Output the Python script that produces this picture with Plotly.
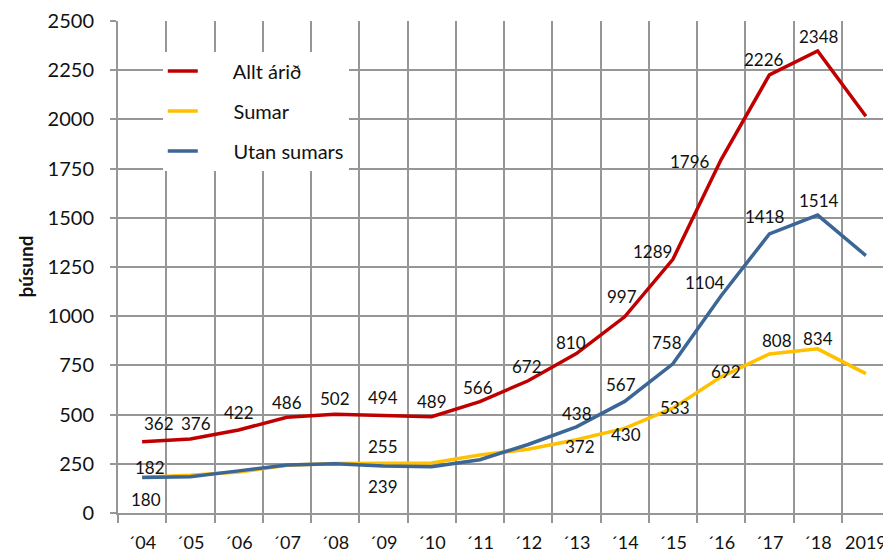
import plotly.graph_objects as go

years = ["´04", "´05", "´06", "´07", "´08", "´09", "´10", "´11", "´12",
         "´13", "´14", "´15", "´16", "´17", "´18", "2019"]

allt_arid = [362, 376, 422, 486, 502, 494, 489, 566, 672, 810, 997, 1289, 1796, 2226, 2348, 2016]
sumar = [182, 192, 208, 242, 252, 255, 254, 295, 324, 372, 430, 533, 692, 808, 834, 708]
utan_sumars = [180, 184, 214, 244, 250, 239, 235, 271, 348, 438, 567, 758, 1104, 1418, 1514, 1308]

# which points carry a data label
allt_labeled = [True] * 16
sumar_labeled = [i in (0, 5, 9, 10, 11, 12, 13, 14, 15) for i in range(16)]
utan_labeled = [i in (0, 5, 9, 10, 11, 12, 13, 14, 15) for i in range(16)]

# label offsets in screen pixels (dx, dy-up)
allt_off = [(17, 18), (6, 16), (0, 17), (0, 15), (0, 16), (0, 18), (0, 15), (-2, 14),
            (-1, 14), (-5, 11), (-3, 20), (-20, 8), (-31, -2), (-5, 15), (1, 14), (-1, -17)]
sumar_off = {0: (8, 10), 5: (0, 16), 9: (4, -7), 10: (1, -6), 11: (2, 1),
             12: (5, 5), 13: (8, 13), 14: (0, 10), 15: (2, 8)}
utan_off = {0: (4, -22), 5: (0, -21), 9: (1, 13), 10: (-4, 17), 11: (-6, 21),
            12: (-16, 13), 13: (-4, 17), 14: (1, 15), 15: (-1, 19)}

RED = "#C00000"
YELLOW = "#FFC000"
BLUE = "#3C6696"
GRID = "#969696"
FONT = "Lato, 'Open Sans', sans-serif"
PAD = "\u00a0" * 6

fig = go.Figure()
series = [("Allt árið", allt_arid, RED), ("Sumar", sumar, YELLOW), ("Utan sumars", utan_sumars, BLUE)]
for name, vals, col in series:
    fig.add_trace(go.Scatter(x=years, y=vals, mode="lines", name=PAD + name,
                             line=dict(color=col, width=3.5), legendgroup=name))

annotations = []
def add_labels(vals, labeled, offs):
    for i, v in enumerate(vals):
        if not labeled[i]:
            continue
        dx, dy = offs[i]
        annotations.append(dict(x=years[i], y=v, xref="x", yref="y", text=str(v),
                                showarrow=False, xshift=dx, yshift=dy,
                                font=dict(family=FONT, size=17, color="#111111")))

add_labels(allt_arid, allt_labeled, allt_off)
add_labels(sumar, sumar_labeled, sumar_off)
add_labels(utan_sumars, utan_labeled, utan_off)

annotations.append(dict(x=-0.121, y=0.5, xref="paper", yref="paper", text="<b>þúsund</b>",
                        textangle=-90, showarrow=False, xanchor="center", yanchor="middle",
                        font=dict(family=FONT, size=19, color="#111111")))

# the page body adds an 8px offset, so the figure is sized to fit the window
fig.update_layout(
    width=883, height=547,
    margin=dict(l=110, r=1, t=13, b=42, autoexpand=False),
    paper_bgcolor="white", plot_bgcolor="white",
    font=dict(family=FONT, size=20, color="#111111"),
    annotations=annotations,
    showlegend=True,
    legend=dict(x=0.058, y=0.938, xanchor="left", yanchor="top",
                bgcolor="white", borderwidth=0, tracegroupgap=11,
                font=dict(family=FONT, size=20, color="#111111")),
    xaxis=dict(type="category", tickson="boundaries", showgrid=True, gridcolor=GRID,
               gridwidth=1.5, showline=True, linecolor=GRID, linewidth=2,
               ticks="outside", ticklen=8, tickcolor=GRID, tickwidth=1.5,
               tickangle=0, automargin=False, ticklabelstandoff=12,
               tickfont=dict(family=FONT, size=18), range=[-0.5, 15.5],
               fixedrange=True),
    yaxis=dict(range=[0, 2500], tickvals=list(range(0, 2501, 250)), automargin=False,
               showgrid=True, gridcolor=GRID, gridwidth=1.5, zeroline=False,
               showline=True, linecolor=GRID, linewidth=2,
               ticks="outside", ticklen=6, tickcolor=GRID, tickwidth=1.5,
               tickfont=dict(family=FONT, size=20), ticklabelstandoff=12),
)

fig.write_html("out.html")
